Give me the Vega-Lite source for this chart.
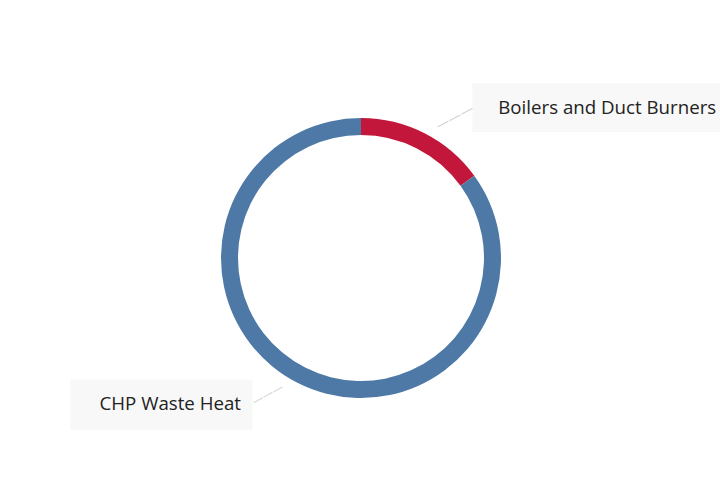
{
  "$schema": "https://vega.github.io/schema/vega-lite/v6.json",
  "description": "Share of heat supply: CHP waste heat vs boilers and duct burners.",
  "width": 718,
  "height": 444,
  "autosize": "none",
  "padding": {"top": 36, "left": 2, "right": 0, "bottom": 0},
  "background": "white",
  "config": {"view": {"stroke": null}},
  "data": {
    "values": [
      {"category": "Boilers and Duct Burners", "value": 15},
      {"category": "CHP Waste Heat", "value": 85}
    ]
  },
  "encoding": {
    "theta": {"field": "value", "type": "quantitative", "stack": true},
    "order": {"field": "category", "sort": "ascending"}
  },
  "layer": [
    {
      "mark": {"type": "text", "font": "DejaVu Sans", "fontSize": 41, "color": "#f8f8f8", "align": "center", "baseline": "middle", "radius": 168, "dx": 161.7, "dy": 2},
      "encoding": {
        "text": {"condition": {"test": "datum.category === 'Boilers and Duct Burners'", "value": "████████"}, "value": ""}
      }
    },
    {
      "mark": {"type": "text", "font": "DejaVu Sans", "fontSize": 42, "color": "#f8f8f8", "align": "center", "baseline": "middle", "radius": 164, "dx": -118.9, "dy": 1.5},
      "encoding": {
        "text": {"condition": {"test": "datum.category === 'CHP Waste Heat'", "value": "█████▋"}, "value": ""}
      }
    },
    {
      "mark": {"type": "text", "font": "DejaVu Sans", "fontSize": 13.6, "color": "#cccccc", "align": "center", "baseline": "middle", "angle": 332.2, "radius": 139.6, "dx": 34.6},
      "encoding": {
        "text": {"condition": {"test": "datum.category === 'Boilers and Duct Burners'", "value": "———"}, "value": ""}
      }
    },
    {
      "mark": {"type": "text", "font": "DejaVu Sans", "fontSize": 11.3, "color": "#cccccc", "align": "center", "baseline": "middle", "angle": 332, "radius": 134.8, "dx": -36.1},
      "encoding": {
        "text": {"condition": {"test": "datum.category === 'CHP Waste Heat'", "value": "———"}, "value": ""}
      }
    },
    {
      "mark": {"type": "arc", "outerRadius": 140, "innerRadius": 123},
      "encoding": {
        "color": {
          "field": "category",
          "type": "nominal",
          "scale": {"domain": ["Boilers and Duct Burners", "CHP Waste Heat"], "range": ["#c2173b", "#4e79a7"]},
          "legend": null
        }
      }
    },
    {
      "mark": {"type": "text", "font": "Open Sans", "fontSize": 18.7, "color": "#222222", "align": "left", "baseline": "middle", "radius": 168, "dx": 61},
      "encoding": {
        "text": {"condition": {"test": "datum.category === 'Boilers and Duct Burners'", "field": "category"}, "value": ""}
      }
    },
    {
      "mark": {"type": "text", "font": "Open Sans", "fontSize": 18.7, "color": "#222222", "align": "right", "baseline": "middle", "radius": 164, "dx": -45.5},
      "encoding": {
        "text": {"condition": {"test": "datum.category === 'CHP Waste Heat'", "field": "category"}, "value": ""}
      }
    }
  ]
}
